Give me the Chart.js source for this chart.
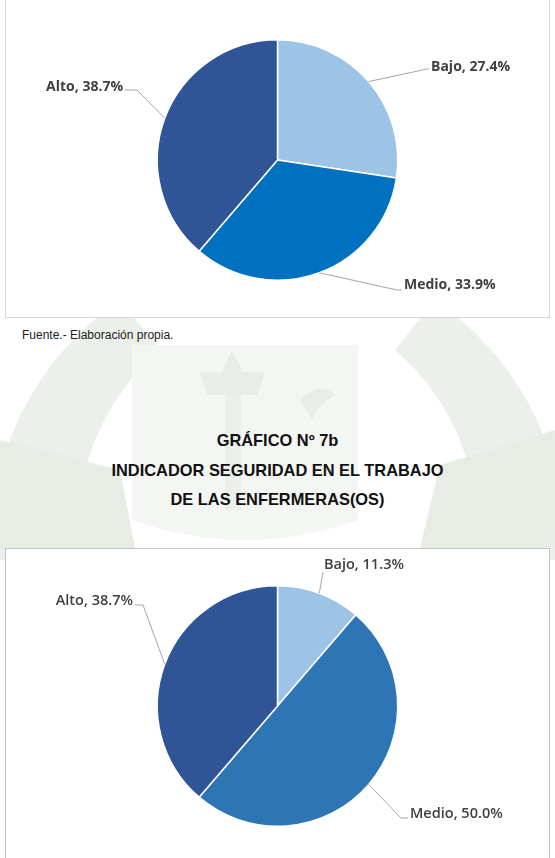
<!DOCTYPE html>
<html lang="es">
<head>
<meta charset="utf-8">
<script src="https://cdn.jsdelivr.net/npm/chart.js@4.4.0/dist/chart.umd.min.js"></script>
<style>
  html, body { margin: 0; padding: 0; background: #fff; }
  body { width: 555px; height: 858px; position: relative; overflow: hidden; font-family: 'Liberation Sans', Arial, sans-serif; }
  .fondo { position: absolute; left: 0; top: 0; opacity: 0.75; }
  .caja { position: absolute; left: 5px; width: 543px; background: #fff; }
  #caja1 { top: -1px; height: 317px; border: 1px solid #d6d6d6; }
  #caja2 { top: 548px; height: 320px; border: 1px solid #c4c4c4; }
  canvas { position: absolute; left: 0; }
  #graficoA { top: 0; }
  #graficoB { top: 548px; }
  .fuente { position: absolute; left: 22px; top: 328px; font-size: 12px; color: #222; }
  .titulo { position: absolute; left: 0; width: 555px; text-align: center; font-weight: bold; font-size: 16.4px; color: #111; line-height: 19px; }
</style>
</head>
<body>
<!-- marca de agua (escudo) -->
<svg class="fondo" width="555" height="858">
  <path d="M -10 560 A 300 300 0 0 1 120 300 L 160 350 A 235 235 0 0 0 80 560 Z" fill="#e6ebe3"/>
  <path d="M 565 560 A 300 300 0 0 0 435 300 L 395 350 A 235 235 0 0 1 475 560 Z" fill="#e6ebe3"/>
  <path d="M 0 440 L 120 470 L 135 548 L 0 548 Z" fill="#dfe6dc"/>
  <path d="M 555 430 L 440 465 L 420 548 L 555 548 Z" fill="#dfe6dc"/>
  <path d="M 132 345 L 358 345 L 358 520 Q 245 560 132 520 Z" fill="#f1f4ef"/>
  <path d="M 222 372 L 232 350 L 243 372 Z M 200 372 L 265 372 L 258 395 L 207 395 Z" fill="#e2e8df"/>
  <rect x="225" y="395" width="16" height="115" fill="#e6ebe3"/>
  <path d="M 300 400 Q 320 380 335 395 Q 318 405 312 420 Z" fill="#e2e8df"/>
</svg>

<div id="caja1" class="caja"></div>
<div id="caja2" class="caja"></div>
<canvas id="graficoA" width="555" height="318"></canvas>
<canvas id="graficoB" width="555" height="310"></canvas>

<div class="fuente">Fuente.- Elaboración propia.</div>
<div class="titulo" style="top:431px">GRÁFICO Nº 7b</div>
<div class="titulo" style="top:461px">INDICADOR SEGURIDAD EN EL TRABAJO</div>
<div class="titulo" style="top:490px">DE LAS ENFERMERAS(OS)</div>

<script>
// Datos
const categorias = ['Bajo', 'Medio', 'Alto'];
const valoresGraficoA = [27.4, 33.9, 38.7];
const valoresGraficoB = [11.3, 50.0, 38.7];

const coresGraficoA = ['#9dc3e6', '#0070c0', '#2f5597'];
const coresGraficoB = ['#9dc3e6', '#2e75b6', '#2f5597'];

// Posición de las etiquetas (codo de la línea guía y texto), en px del canvas
const etiquetasA = [
  { codo: [427, 69], fin: [429, 69], texto: [431, 67], alinear: 'left' },
  { codo: [397, 290], fin: [402, 290], texto: [404, 285], alinear: 'left' },
  { codo: [137, 90], fin: [125, 90], texto: [123, 87], alinear: 'right' }
];
const etiquetasB = [
  { codo: [323, 24], fin: [323, 24], texto: [324, 17], alinear: 'left' },
  { codo: [401, 270], fin: [408, 270], texto: [410, 266], alinear: 'left' },
  { codo: [143, 57], fin: [135, 57], texto: [133, 53], alinear: 'right' }
];

// Plugin para dibujar etiquetas con líneas guía
const pluginEtiquetas = {
  id: 'etiquetas',
  afterDatasetsDraw(chart, args, opts) {
    const ctx = chart.ctx;
    const meta = chart.getDatasetMeta(0);
    const valores = chart.data.datasets[0].data;
    ctx.save();
    meta.data.forEach((arco, i) => {
      const pos = opts.posiciones[i];
      const medio = (arco.startAngle + arco.endAngle) / 2;
      const x0 = arco.x + Math.cos(medio) * arco.outerRadius;
      const y0 = arco.y + Math.sin(medio) * arco.outerRadius;
      ctx.strokeStyle = '#a6a6a6';
      ctx.lineWidth = 1;
      ctx.beginPath();
      ctx.moveTo(x0, y0);
      ctx.lineTo(pos.codo[0], pos.codo[1]);
      ctx.lineTo(pos.fin[0], pos.fin[1]);
      ctx.stroke();
      ctx.fillStyle = '#404040';
      ctx.font = opts.fuente;
      ctx.textAlign = pos.alinear;
      ctx.textBaseline = 'middle';
      ctx.fillText(`${chart.data.labels[i]}, ${valores[i].toFixed(1)}%`, pos.texto[0], pos.texto[1]);
    });
    ctx.restore();
  }
};

function crearGrafico(id, valores, colores, posiciones, fuente, padding) {
  const ctx = document.getElementById(id).getContext('2d');
  return new Chart(ctx, {
    type: 'pie',
    data: {
      labels: categorias,
      datasets: [{
        data: valores,
        backgroundColor: colores,
        borderColor: '#ffffff',
        borderWidth: 1.5
      }]
    },
    options: {
      responsive: false,
      animation: false,
      layout: { padding: padding },
      plugins: {
        legend: { display: false },
        tooltip: { enabled: false },
        etiquetas: { posiciones: posiciones, fuente: fuente }
      }
    },
    plugins: [pluginEtiquetas]
  });
}

document.addEventListener('DOMContentLoaded', () => {
  crearGrafico('graficoA', valoresGraficoA, coresGraficoA, etiquetasA,
    "bold 14px 'Open Sans'", { top: 39, bottom: 37 });
  crearGrafico('graficoB', valoresGraficoB, coresGraficoB, etiquetasB,
    "600 14.5px 'Open Sans'", { top: 37, bottom: 31 });
});
</script>
</body>
</html>
